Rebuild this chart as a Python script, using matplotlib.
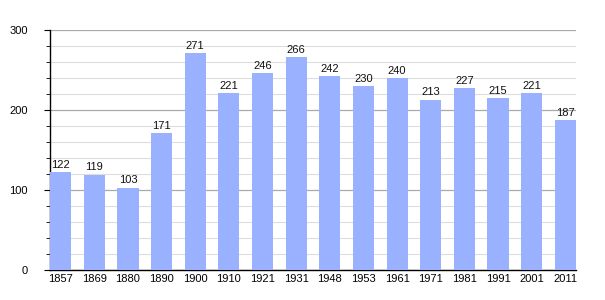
import matplotlib
matplotlib.use("Agg")
import matplotlib.pyplot as plt
from matplotlib.ticker import MultipleLocator

plt.rcParams['font.family'] = ['Liberation Sans', 'DejaVu Sans']

years = ["1857", "1869", "1880", "1890", "1900", "1910", "1921", "1931",
         "1948", "1953", "1961", "1971", "1981", "1991", "2001", "2011"]
population = [122, 119, 103, 171, 271, 221, 246, 266, 242, 230, 240, 213, 227, 215, 221, 187]

fig = plt.figure(figsize=(6.05, 3.0), dpi=100)
ax = fig.add_axes([50/605, 30/300, 526/605, 240/300])

x = list(range(len(years)))
w = 0.63
ax.bar(x, population, width=w, color="#99B1FF", zorder=3)
for xi, v in zip(x, population):
    ax.text(xi, v + 3, str(v), ha="center", va="bottom", fontsize=8, color="#111111", zorder=4)

ax.set_xlim(-w/2, len(years) - 1 + w/2)
ax.set_ylim(0, 300)
ax.yaxis.set_major_locator(MultipleLocator(100))
ax.yaxis.set_minor_locator(MultipleLocator(20))
ax.grid(axis="y", which="major", color="#aaaaaa", linewidth=0.9, zorder=1)
ax.grid(axis="y", which="minor", color="#dddddd", linewidth=0.8, zorder=0)
ax.set_xticks(x)
ax.set_xticklabels(years)
ax.tick_params(axis="x", length=0, labelsize=8, pad=3)
ax.tick_params(axis="y", which="major", length=4, labelsize=8, pad=12)
ax.tick_params(axis="y", which="minor", length=3)
for s in ["top", "right"]:
    ax.spines[s].set_visible(False)
ax.spines["left"].set_linewidth(1.0)
ax.spines["bottom"].set_linewidth(1.0)

fig.savefig("out.png", dpi=100)
